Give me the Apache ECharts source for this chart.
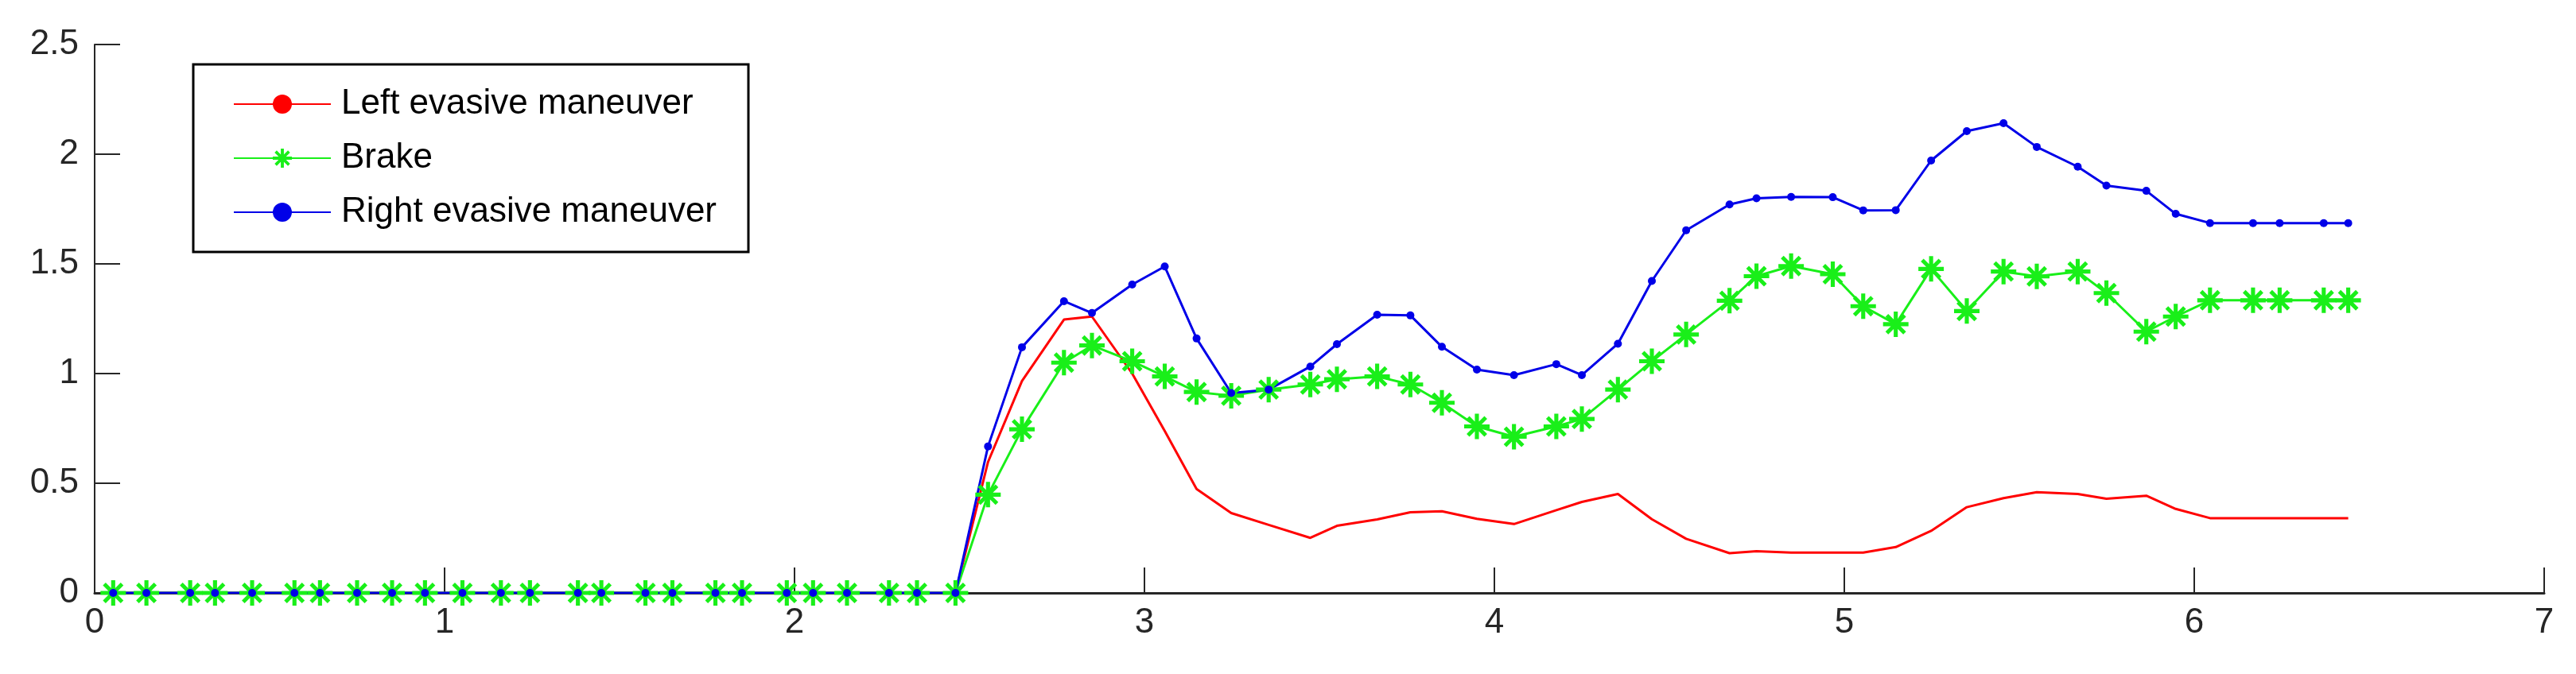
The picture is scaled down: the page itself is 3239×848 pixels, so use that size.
<!DOCTYPE html>
<html>
<head>
<meta charset="utf-8">
<script src="https://cdn.jsdelivr.net/npm/echarts@6/dist/echarts.min.js"></script>
<style>html,body{margin:0;padding:0;background:#fff}#chart{width:3239px;height:848px}</style>
</head>
<body>
<div id="chart"></div>
<script>
// sample times (shared by all series)
var times = [0.053, 0.148, 0.273, 0.344, 0.45, 0.571, 0.644, 0.75, 0.85, 0.944, 1.051, 1.161, 1.244, 1.381, 1.448, 1.574, 1.651, 1.774, 1.85, 1.978, 2.053, 2.15, 2.27, 2.35, 2.46,
    2.553, 2.65, 2.77, 2.85, 2.965, 3.058, 3.149, 3.248, 3.355, 3.474, 3.55, 3.665, 3.76, 3.85, 3.95, 4.056, 4.177, 4.25, 4.353, 4.45,
    4.548, 4.672, 4.749, 4.848, 4.967, 5.054, 5.147, 5.248, 5.35, 5.455, 5.55, 5.667, 5.749, 5.863, 5.947, 6.045, 6.168, 6.244, 6.37, 6.44];
var leftEvasive = [0, 0, 0, 0, 0, 0, 0, 0, 0, 0, 0, 0, 0, 0, 0, 0, 0, 0, 0, 0, 0, 0, 0, 0, 0,
    0.597, 0.966, 1.246, 1.26, 1.0, 0.738, 0.474, 0.364, 0.31, 0.251, 0.306, 0.335, 0.368, 0.372, 0.338, 0.314, 0.377, 0.415, 0.451, 0.336,
    0.247, 0.181, 0.19, 0.184, 0.184, 0.184, 0.209, 0.283, 0.391, 0.432, 0.459, 0.451, 0.429, 0.443, 0.383, 0.341, 0.341, 0.341, 0.341, 0.341];
var brake = [0, 0, 0, 0, 0, 0, 0, 0, 0, 0, 0, 0, 0, 0, 0, 0, 0, 0, 0, 0, 0, 0, 0, 0, 0,
    0.448, 0.746, 1.05, 1.128, 1.056, 0.987, 0.916, 0.899, 0.927, 0.95, 0.974, 0.987, 0.95, 0.867, 0.759, 0.712, 0.759, 0.793, 0.927, 1.056,
    1.178, 1.332, 1.444, 1.49, 1.453, 1.307, 1.225, 1.477, 1.285, 1.465, 1.443, 1.465, 1.367, 1.191, 1.26, 1.334, 1.334, 1.334, 1.334, 1.334];
var rightEvasive = [0, 0, 0, 0, 0, 0, 0, 0, 0, 0, 0, 0, 0, 0, 0, 0, 0, 0, 0, 0, 0, 0, 0, 0, 0,
    0.668, 1.12, 1.33, 1.276, 1.406, 1.488, 1.16, 0.911, 0.927, 1.032, 1.134, 1.268, 1.265, 1.122, 1.018, 0.993, 1.043, 0.993, 1.136, 1.422,
    1.653, 1.771, 1.799, 1.805, 1.804, 1.744, 1.745, 1.971, 2.105, 2.141, 2.033, 1.943, 1.857, 1.833, 1.728, 1.686, 1.686, 1.686, 1.686, 1.686];
var seriesNames = ["Left evasive maneuver", "Brake", "Right evasive maneuver"];

function pairs(ys) { return times.map(function (t, i) { return [t, ys[i]]; }); }

// asterisk marker (plus + cross)
var asterisk = "path://M-1.6,-10 L1.6,-10 L1.6,10 L-1.6,10 Z M-10,-1.6 L10,-1.6 L10,1.6 L-10,1.6 Z " +
    "M-5.9,-8.1 L8.1,5.9 L5.9,8.1 L-8.1,-5.9 Z M5.9,-8.1 L8.1,-5.9 L-5.9,8.1 L-8.1,5.9 Z";

var font = "'Liberation Sans', Arial, sans-serif";
var dom = document.getElementById("chart");
var myChart = echarts.init(dom, null, { renderer: "canvas" });

var option = {
    animation: false,
    backgroundColor: "#fff",
    grid: { left: 119, right: 40, top: 56, bottom: 102, containLabel: false },
    legend: {
        orient: "vertical", left: 243, top: 81,
        padding: [28, 40, 28, 50],
        borderColor: "#000", borderWidth: 3,
        itemWidth: 122, itemHeight: 30, itemGap: 24,
        textStyle: { fontFamily: font, fontSize: 44, color: "#000", padding: [0, 0, 0, 8] },
        data: seriesNames
    },
    xAxis: {
        type: "value", min: 0, max: 7, interval: 1,
        axisLine: { onZero: false, lineStyle: { color: "#262626", width: 3 } },
        axisTick: { inside: true, length: 32, lineStyle: { color: "#262626", width: 2 } },
        axisLabel: { fontFamily: font, fontSize: 44, color: "#262626", margin: 16 },
        splitLine: { show: false }
    },
    yAxis: {
        type: "value", min: 0, max: 2.5, interval: 0.5,
        axisLine: { show: true, lineStyle: { color: "#262626", width: 2 } },
        axisTick: { show: true, inside: true, length: 32, lineStyle: { color: "#262626", width: 2 } },
        axisLabel: { fontFamily: font, fontSize: 44, color: "#262626", margin: 20 },
        splitLine: { show: false }
    },
    series: [
        {
            name: seriesNames[0], type: "line", data: pairs(leftEvasive),
            symbol: "none",
            color: "#ff0000", lineStyle: { color: "#ff0000", width: 3 }
        },
        {
            name: seriesNames[1], type: "line", data: pairs(brake),
            symbol: asterisk, symbolSize: 32,
            color: "#19ef19", itemStyle: { color: "#19ef19" },
            lineStyle: { color: "#19ef19", width: 3 }
        },
        {
            name: seriesNames[2], type: "line", data: pairs(rightEvasive),
            symbol: "circle", symbolSize: 10,
            color: "#0000e8", itemStyle: { color: "#0000e8" },
            lineStyle: { color: "#0000e8", width: 3 }
        }
    ]
};
myChart.setOption(option, true);
</script>
</body>
</html>
